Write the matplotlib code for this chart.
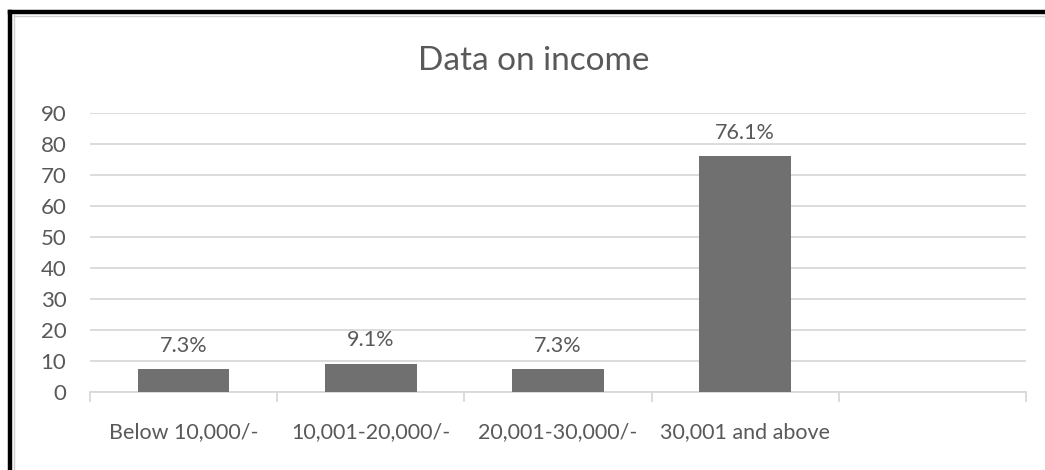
import matplotlib.pyplot as plt
from matplotlib.lines import Line2D
import numpy as np

# income brackets and share of respondents (%)
categories = ["Below 10,000/-", "10,001-20,000/-", "20,001-30,000/-", "30,001 and above", ""]
shares = [7.3, 9.1, 7.3, 76.1, None]
y_ticks = [0, 10, 20, 30, 40, 50, 60, 70, 80, 90]

plt.rcParams["font.family"] = ["Lato", "DejaVu Sans"]
text_col = "#595959"
grid_col = "#d9d9d9"
bar_col = "#707070"

fig = plt.figure(figsize=(10.45, 4.7), dpi=100)
ax = fig.add_axes([0.0861, 0.166, 0.8957, 0.5936])

x = np.arange(len(categories))
vals = [v for v in shares if v is not None]
ax.bar(x[:len(vals)], vals, width=0.49, color=bar_col, zorder=3)

# value labels above each bar
for xi, v in zip(x, vals):
    ax.text(xi, v + 7.6, f"{v:.1f}%", ha="center", va="center",
            fontsize=15.5, color=text_col)

ax.set_xlim(-0.5, len(categories) - 0.5)
ax.set_ylim(0, 90)
ax.set_yticks(y_ticks)
ax.yaxis.grid(True, color=grid_col, linewidth=1.3, zorder=0)
ax.tick_params(axis="y", length=0, pad=17, labelsize=16, labelcolor=text_col)

# category boundaries as minor ticks below the axis
ax.set_xticks(x)
ax.set_xticklabels(categories)
ax.set_xticks(np.arange(-0.5, len(categories)), minor=True)
ax.tick_params(axis="x", which="major", length=0, pad=22, labelsize=15.5, labelcolor=text_col)
ax.tick_params(axis="x", which="minor", length=7, width=1.3, color=grid_col)

for s in ["top", "right", "left"]:
    ax.spines[s].set_visible(False)
ax.spines["bottom"].set_color(grid_col)
ax.spines["bottom"].set_linewidth(1.3)

fig.text(0.511, 0.87, "Data on income", ha="center", va="center",
         fontsize=24, color=text_col)

# frame around the chart (left and top edges visible)
W, H = 1045, 470
fig.add_artist(Line2D([10 / W, 10 / W], [0, 1 - 12 / H], transform=fig.transFigure,
                      color="black", linewidth=3.2))
fig.add_artist(Line2D([10 / W, 1], [1 - 12 / H, 1 - 12 / H], transform=fig.transFigure,
                      color="black", linewidth=3.2))
fig.add_artist(Line2D([13.5 / W, 13.5 / W], [0, 1 - 15 / H], transform=fig.transFigure,
                      color="#d0d0d0", linewidth=1))
fig.add_artist(Line2D([13.5 / W, 1], [1 - 15.5 / H, 1 - 15.5 / H], transform=fig.transFigure,
                      color="#d0d0d0", linewidth=1))

fig.savefig("out.png", dpi=100)
